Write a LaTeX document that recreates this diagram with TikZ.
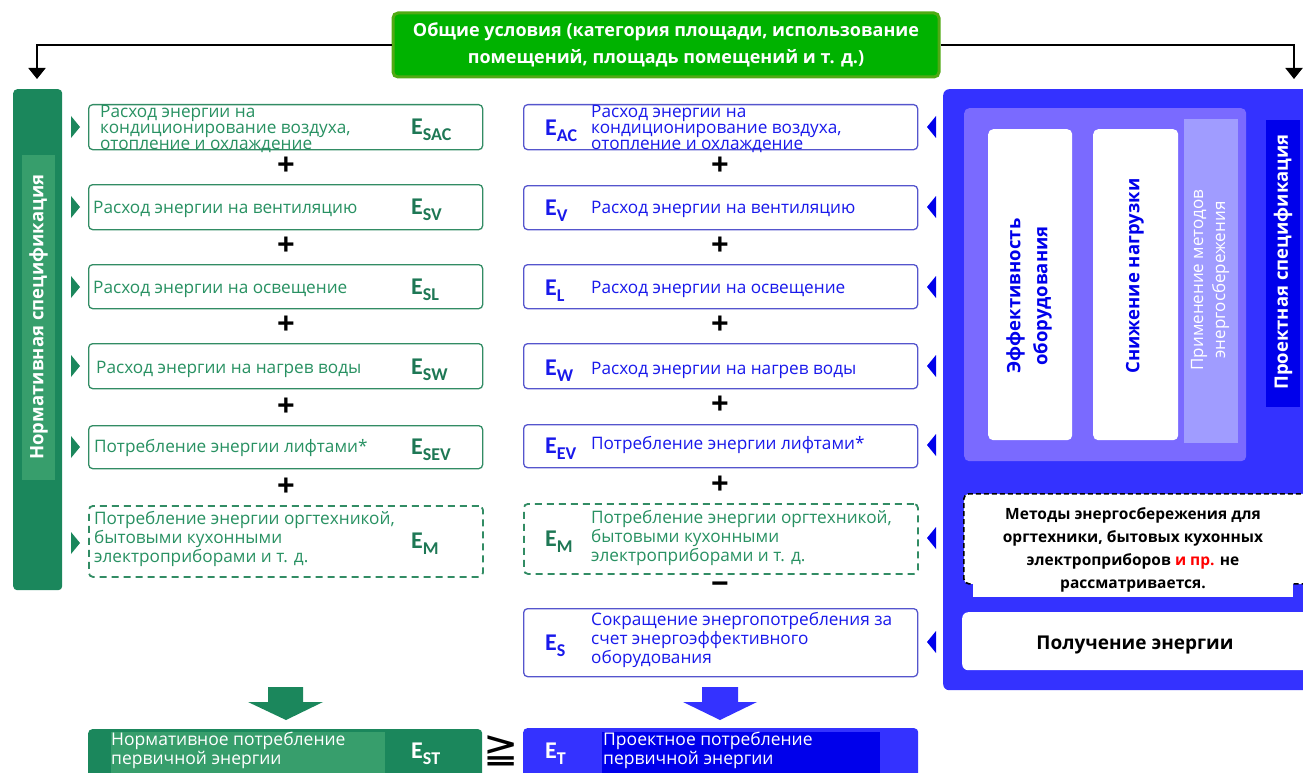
\documentclass[tikz,border=0pt]{standalone}
\usepackage{fontspec}
\setmainfont{Open Sans}
\newfontfamily\calib{Carlito}
\newfontfamily\dejavu{DejaVu Sans}
\usetikzlibrary{arrows.meta}

\definecolor{topFill}{RGB}{0,178,0}
\definecolor{topEdge}{RGB}{80,170,20}
\definecolor{gBar}{RGB}{27,135,92}
\definecolor{gBarLight}{RGB}{55,158,108}
\definecolor{gText}{RGB}{40,145,98}
\definecolor{gLabel}{RGB}{30,120,85}
\definecolor{gEdge}{RGB}{50,140,100}
\definecolor{bPanel}{RGB}{52,50,255}
\definecolor{bInner}{RGB}{122,106,255}
\definecolor{bLav}{RGB}{160,156,255}
\definecolor{bDeep}{RGB}{0,0,235}
\definecolor{bText}{RGB}{25,25,235}
\definecolor{bEdge}{RGB}{85,85,205}

% energy symbol with subscript
\newcommand{\elab}[1]{{\calib\bfseries\fontsize{24}{24}\selectfont E\raisebox{-6pt}{\fontsize{18}{18}\selectfont #1}}}

\begin{document}
\begin{tikzpicture}[x=1pt,y=-1pt,
  box/.style={rounded corners=4pt, line width=1.3pt, fill=white, anchor=north west,
              inner sep=0pt, minimum width=394pt},
  gbox/.style={box, draw=gEdge},
  bbox/.style={box, draw=bEdge},
  dbox/.style={box, draw=gEdge, dash pattern=on 7pt off 5pt, line width=1.8pt},
  gtx/.style={anchor=west, align=left, inner sep=0pt, text=gText,
              font=\fontsize{17.2}{19}\selectfont},
  btx/.style={gtx, text=bText},
  glab/.style={anchor=west, inner sep=0pt, text=gLabel},
  blab/.style={glab, text=bText},
  op/.style={inner sep=0pt, font=\bfseries\fontsize{31}{31}\selectfont},
  vtx/.style={rotate=90, align=center, inner sep=0pt},
  panel/.style={anchor=north west, inner sep=0pt},
]
\useasboundingbox (0,0) rectangle (1303,773);

% ---------- general conditions ----------
\node[fill=topFill, draw=topEdge, line width=3pt, rounded corners=5pt,
      minimum width=546pt, minimum height=64pt, inner sep=0pt, align=center,
      text=white, font=\bfseries\fontsize{18}{27}\selectfont] (top) at (666,45)
  {Общие условия (категория площади, использование\\помещений, площадь помещений и т. д.)};

% ---------- left: standard specification ----------
\node[panel, fill=gBar, rounded corners=4pt, minimum width=49pt, minimum height=501pt] (Lbar) at (13,89) {};
\fill[gBarLight] (22,155) rectangle (55,480);
\node[vtx, text=white, font=\bfseries\fontsize{18.5}{20}\selectfont] (Ltitle) at (38.5,317) {Нормативная спецификация};

\node[gbox, minimum height=45pt] (L1) at (88,104) {};
\node[gbox, minimum height=45pt] (L2) at (88,184) {};
\node[gbox, minimum height=44pt] (L3) at (88,264) {};
\node[gbox, minimum height=45pt] (L4) at (88,343) {};
\node[gbox, minimum height=43pt] (L5) at (88,425) {};
\node[dbox, minimum height=71pt] (L6) at (88,505) {};

\node[gtx, font=\fontsize{17.2}{16}\selectfont] (L1t) at (100,129) {Расход энергии на\\кондиционирование воздуха,\\отопление и охлаждение};
\node[gtx] (L2t) at (93,209) {Расход энергии на вентиляцию};
\node[gtx] (L3t) at (93,289) {Расход энергии на освещение};
\node[gtx] (L4t) at (96,369) {Расход энергии на нагрев воды};
\node[gtx] (L5t) at (94,448) {Потребление энергии лифтами*};
\node[gtx] (L6t) at (94,539) {Потребление энергии оргтехникой,\\бытовыми кухонными\\электроприборами и т. д.};

\node[glab] (L1e) at (411,130) {\elab{SAC}};
\node[glab] (L2e) at (411,210) {\elab{SV}};
\node[glab] (L3e) at (411,290) {\elab{SL}};
\node[glab] (L4e) at (411,370) {\elab{SW}};
\node[glab] (L5e) at (411,450) {\elab{SEV}};
\node[glab] (L6e) at (411,544) {\elab{M}};

\foreach \n/\y in {p1/166,p2/246,p3/325,p4/407,p5/487}
  \node[op] (L\n) at (286,\y) {+};

\foreach \y in {127,207,287,366,447,543}
  \fill[gBar] (71,\y-11) -- (80,\y) -- (71,\y+11) -- cycle;

% ---------- middle: design values ----------
\node[bbox, minimum height=45pt] (M1) at (523,104) {};
\node[bbox, minimum height=44pt] (M2) at (523,185) {};
\node[bbox, minimum height=44pt] (M3) at (523,264) {};
\node[bbox, minimum height=45pt] (M4) at (523,343) {};
\node[bbox, minimum height=43pt] (M5) at (523,424) {};
\node[dbox, minimum height=70pt] (M6) at (523,503) {};
\node[bbox, minimum height=68pt] (M7) at (523,608) {};

\node[btx, font=\fontsize{17.2}{16}\selectfont] (M1t) at (591,129) {Расход энергии на\\кондиционирование воздуха,\\отопление и охлаждение};
\node[btx] (M2t) at (591,209) {Расход энергии на вентиляцию};
\node[btx] (M3t) at (591,289) {Расход энергии на освещение};
\node[btx] (M4t) at (591,370) {Расход энергии на нагрев воды};
\node[btx] (M5t) at (591,445) {Потребление энергии лифтами*};
\node[gtx] (M6t) at (591,538) {Потребление энергии оргтехникой,\\бытовыми кухонными\\электроприборами и т. д.};
\node[btx] (M7t) at (591,640) {Сокращение энергопотребления за\\счет энергоэффективного\\оборудования};

\node[blab] (M1e) at (545,131) {\elab{AC}};
\node[blab] (M2e) at (545,211) {\elab{V}};
\node[blab] (M3e) at (545,291) {\elab{L}};
\node[blab] (M4e) at (545,371) {\elab{W}};
\node[blab] (M5e) at (545,449) {\elab{EV}};
\node[glab] (M6e) at (545,542) {\elab{M}};
\node[blab] (M7e) at (545,646) {\elab{S}};

\foreach \n/\y in {p1/166,p2/246,p3/325,p4/405,p5/485}
  \node[op] (M\n) at (720,\y) {+};
\node[op] (Mminus) at (720,588) {−};

\foreach \y in {127,207,287,366,445,538,642}
  \fill[bDeep] (936,\y-11) -- (927,\y) -- (936,\y+11) -- cycle;

% ---------- right: design specification ----------
\node[panel, fill=bPanel, rounded corners=6pt, minimum width=372pt, minimum height=601pt] (Rpanel) at (943,89) {};
\node[panel, fill=bInner, rounded corners=5pt, minimum width=282pt, minimum height=353pt] (Rinner) at (964,108) {};
\node[panel, fill=white, rounded corners=5pt, minimum width=84pt, minimum height=311pt] (R1) at (988,129) {};
\node[panel, fill=white, rounded corners=5pt, minimum width=85pt, minimum height=311pt] (R2) at (1093,129) {};
\node[panel, fill=bLav, minimum width=54pt, minimum height=324pt] (R3) at (1184,119) {};
\node[panel, fill=bDeep, minimum width=34pt, minimum height=287pt] (R4) at (1266,120) {};

\node[vtx, text=bDeep, font=\bfseries\fontsize{18.5}{27}\selectfont] (R1t) at (1029,296) {Эффективность\\оборудования};
\node[vtx, text=bDeep, font=\bfseries\fontsize{18.5}{22}\selectfont] (R2t) at (1135,276) {Снижение нагрузки};
\node[vtx, text=white, font=\fontsize{17}{22}\selectfont] (R3t) at (1210,280) {Применение методов\\энергосбережения};
\node[vtx, text=white, font=\bfseries\fontsize{18.5}{22}\selectfont] (R4t) at (1283,262) {Проектная спецификация};

\node[panel, fill=white, draw=black, dash pattern=on 5pt off 3pt, line width=1.6pt,
      rounded corners=5pt, minimum width=350pt, minimum height=90pt] (R5) at (963,493) {};
\fill[white] (973,583) rectangle (1293,597);
\node[align=center, inner sep=0pt, font=\bfseries\fontsize{15.5}{23}\selectfont] (R5t) at (1133,550)
  {Методы энергосбережения для\\оргтехники, бытовых кухонных\\электроприборов \textcolor{red}{и пр.} не\\рассматривается.};

\node[panel, fill=white, rounded corners=6pt, minimum width=350pt, minimum height=58pt] (R6) at (962,612) {};
\node[inner sep=0pt, font=\bfseries\fontsize{19}{22}\selectfont] (R6t) at (1135,645) {Получение энергии};

% ---------- totals ----------
\fill[gBar] (268,687) -- (303,687) -- (303,702) -- (323,702) -- (286,720) -- (248,702) -- (268,702) -- cycle;
\fill[bPanel] (702,687) -- (738,687) -- (738,702) -- (757,702) -- (720,720) -- (683,702) -- (702,702) -- cycle;

\node[panel, fill=gBar, rounded corners=4pt, minimum width=394pt, minimum height=60pt] (EST) at (88,729) {};
\fill[gBarLight] (111,732) rectangle (385,780);
\node[anchor=west, align=left, inner sep=0pt, text=white, font=\fontsize{17.5}{19}\selectfont] (ESTt) at (111,750)
  {Нормативное потребление\\первичной энергии};
\node[glab, text=white] (ESTe) at (411,754) {\elab{ST}};

\node[panel, fill=bPanel, rounded corners=4pt, minimum width=395pt, minimum height=60pt] (ET) at (523,728) {};
\fill[bDeep] (602,732) rectangle (880,780);
\node[anchor=west, align=left, inner sep=0pt, text=white, font=\fontsize{17.5}{19}\selectfont] (ETt) at (603,750)
  {Проектное потребление\\первичной энергии};
\node[glab, text=white] (ETe) at (545,754) {\elab{T}};

\node[inner sep=0pt, font=\dejavu\fontsize{42}{42}\selectfont] (geq) at (501,751) {≧};

% ---------- connectors from the general conditions ----------
\coordinate (lTip) at (37,79);
\coordinate (rTip) at (1294,79);
\draw[line width=2pt, -{Triangle[width=17pt,length=11pt]}] (top.west) -| (lTip);
\draw[line width=2pt, -{Triangle[width=17pt,length=11pt]}] (top.east) -| (rTip);
\end{tikzpicture}
\end{document}
